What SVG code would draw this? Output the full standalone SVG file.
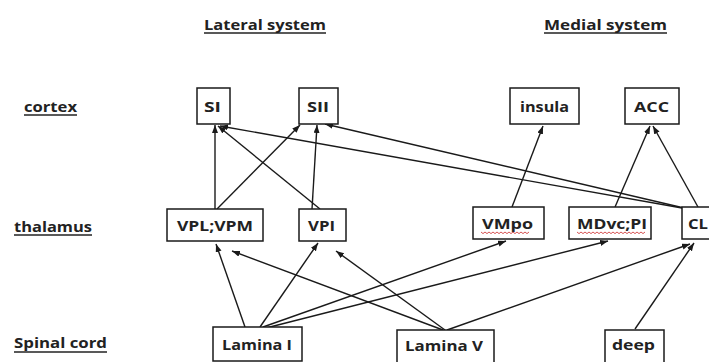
<svg xmlns="http://www.w3.org/2000/svg" width="709" height="362" viewBox="0 0 709 362">
<style>
  .lbl{font-family:"Open Sans","Noto Sans","Liberation Sans",sans-serif;font-weight:bold;font-size:15px;fill:#222}
  .box{fill:#fff;stroke:#1a1a1a;stroke-width:1.5}
  .ul{stroke:#222;stroke-width:1.4}
  .con{stroke:#1a1a1a;stroke-width:1.4;fill:none;marker-end:url(#ah)}
  .sq{fill:none;stroke:#d04040;stroke-width:0.9}
</style>
<defs>
  <marker id="ah" markerUnits="userSpaceOnUse" markerWidth="9" markerHeight="7" refX="8" refY="3" orient="auto">
    <path d="M0,0 L8,3 L0,6 z" fill="#1a1a1a"/>
  </marker>
</defs>
<rect width="709" height="362" fill="#fff"/>

<g id="headings">
  <text class="lbl" x="204" y="30" textLength="122" lengthAdjust="spacingAndGlyphs">Lateral system</text>
  <line class="ul" x1="204" y1="33" x2="326" y2="33"/>
  <text class="lbl" x="544" y="30" textLength="123" lengthAdjust="spacingAndGlyphs">Medial system</text>
  <line class="ul" x1="544" y1="33" x2="667" y2="33"/>
  <text class="lbl" x="24" y="112" textLength="53" lengthAdjust="spacingAndGlyphs">cortex</text>
  <line class="ul" x1="24" y1="115" x2="77" y2="115"/>
  <text class="lbl" x="14" y="232" textLength="78" lengthAdjust="spacingAndGlyphs">thalamus</text>
  <line class="ul" x1="14" y1="235" x2="92" y2="235"/>
  <text class="lbl" x="14" y="348" textLength="93" lengthAdjust="spacingAndGlyphs">Spinal cord</text>
  <line class="ul" x1="14" y1="352" x2="107" y2="352"/>
</g>

<g id="connectors">
  <line class="con" x1="215" y1="209" x2="215" y2="125"/>
  <line class="con" x1="217" y1="209" x2="300" y2="125"/>
  <line class="con" x1="320" y1="209" x2="218" y2="126"/>
  <line class="con" x1="312" y1="209" x2="317" y2="125"/>
  <line class="con" x1="682" y1="208" x2="220" y2="126"/>
  <line class="con" x1="684" y1="208" x2="325" y2="124"/>
  <line class="con" x1="512" y1="207" x2="543" y2="126"/>
  <line class="con" x1="615" y1="207" x2="650" y2="126"/>
  <line class="con" x1="698" y1="207" x2="653" y2="126"/>
  <line class="con" x1="245" y1="327" x2="216" y2="244"/>
  <line class="con" x1="260" y1="327" x2="318" y2="243"/>
  <line class="con" x1="263" y1="327" x2="506" y2="241"/>
  <line class="con" x1="266" y1="328" x2="608" y2="241"/>
  <line class="con" x1="443" y1="330" x2="232" y2="251"/>
  <line class="con" x1="445" y1="330" x2="336" y2="251"/>
  <line class="con" x1="447" y1="330" x2="690" y2="244"/>
  <line class="con" x1="635" y1="329" x2="694" y2="243"/>
</g>

<g id="SI">
  <rect class="box" x="197" y="88" width="33" height="36"/>
  <text class="lbl" x="204" y="112" textLength="17" lengthAdjust="spacingAndGlyphs">SI</text>
</g>
<g id="SII">
  <rect class="box" x="299" y="88" width="39" height="36"/>
  <text class="lbl" x="307" y="112" textLength="22" lengthAdjust="spacingAndGlyphs">SII</text>
</g>
<g id="insula">
  <rect class="box" x="510" y="88" width="69" height="36"/>
  <text class="lbl" x="520" y="112" textLength="49" lengthAdjust="spacingAndGlyphs">insula</text>
</g>
<g id="ACC">
  <rect class="box" x="625" y="88" width="54" height="36"/>
  <text class="lbl" x="634" y="112" textLength="35" lengthAdjust="spacingAndGlyphs">ACC</text>
</g>

<g id="VPL_VPM">
  <rect class="box" x="167" y="209" width="96" height="32"/>
  <text class="lbl" x="177" y="231" textLength="76" lengthAdjust="spacingAndGlyphs">VPL;VPM</text>
</g>
<g id="VPI">
  <rect class="box" x="299" y="209" width="47" height="32"/>
  <text class="lbl" x="308" y="231" textLength="27" lengthAdjust="spacingAndGlyphs">VPI</text>
</g>
<g id="VMpo">
  <rect class="box" x="473" y="207" width="71" height="32"/>
  <text class="lbl" x="482" y="229" textLength="51" lengthAdjust="spacingAndGlyphs">VMpo</text>
  <path class="sq" d="M481,232 l2,1.6 l2,-1.6 l2,1.6 l2,-1.6 l2,1.6 l2,-1.6 l2,1.6 l2,-1.6 l2,1.6 l2,-1.6 l2,1.6 l2,-1.6 l2,1.6 l2,-1.6 l2,1.6 l2,-1.6 l2,1.6 l2,-1.6 l2,1.6 l2,-1.6 l2,1.6 l2,-1.6 l2,1.6 l2,-1.6"/>
</g>
<g id="MDvc_PI">
  <rect class="box" x="569" y="207" width="82" height="32"/>
  <text class="lbl" x="577" y="229" textLength="70" lengthAdjust="spacingAndGlyphs">MDvc;PI</text>
  <path class="sq" d="M577,232 l2,1.6 l2,-1.6 l2,1.6 l2,-1.6 l2,1.6 l2,-1.6 l2,1.6 l2,-1.6 l2,1.6 l2,-1.6 l2,1.6 l2,-1.6 l2,1.6 l2,-1.6 l2,1.6 l2,-1.6 l2,1.6 l2,-1.6 l2,1.6 l2,-1.6 l2,1.6 l2,-1.6 l2,1.6 l2,-1.6 l2,1.6 l2,-1.6 l2,1.6 l2,-1.6 l2,1.6 l2,-1.6 l2,1.6 l2,-1.6 l2,1.6 l2,-1.6"/>
</g>
<g id="CL">
  <rect class="box" x="682" y="207" width="34" height="32"/>
  <text class="lbl" x="688" y="229" textLength="20" lengthAdjust="spacingAndGlyphs">CL</text>
</g>

<g id="Lamina_I">
  <rect class="box" x="213" y="327" width="89" height="34"/>
  <text class="lbl" x="222" y="350" textLength="70" lengthAdjust="spacingAndGlyphs">Lamina I</text>
</g>
<g id="Lamina_V">
  <rect class="box" x="397" y="330" width="97" height="34"/>
  <text class="lbl" x="405" y="351" textLength="78" lengthAdjust="spacingAndGlyphs">Lamina V</text>
</g>
<g id="deep">
  <rect class="box" x="605" y="330" width="59" height="34"/>
  <text class="lbl" x="612" y="350" textLength="43" lengthAdjust="spacingAndGlyphs">deep</text>
</g>
</svg>
